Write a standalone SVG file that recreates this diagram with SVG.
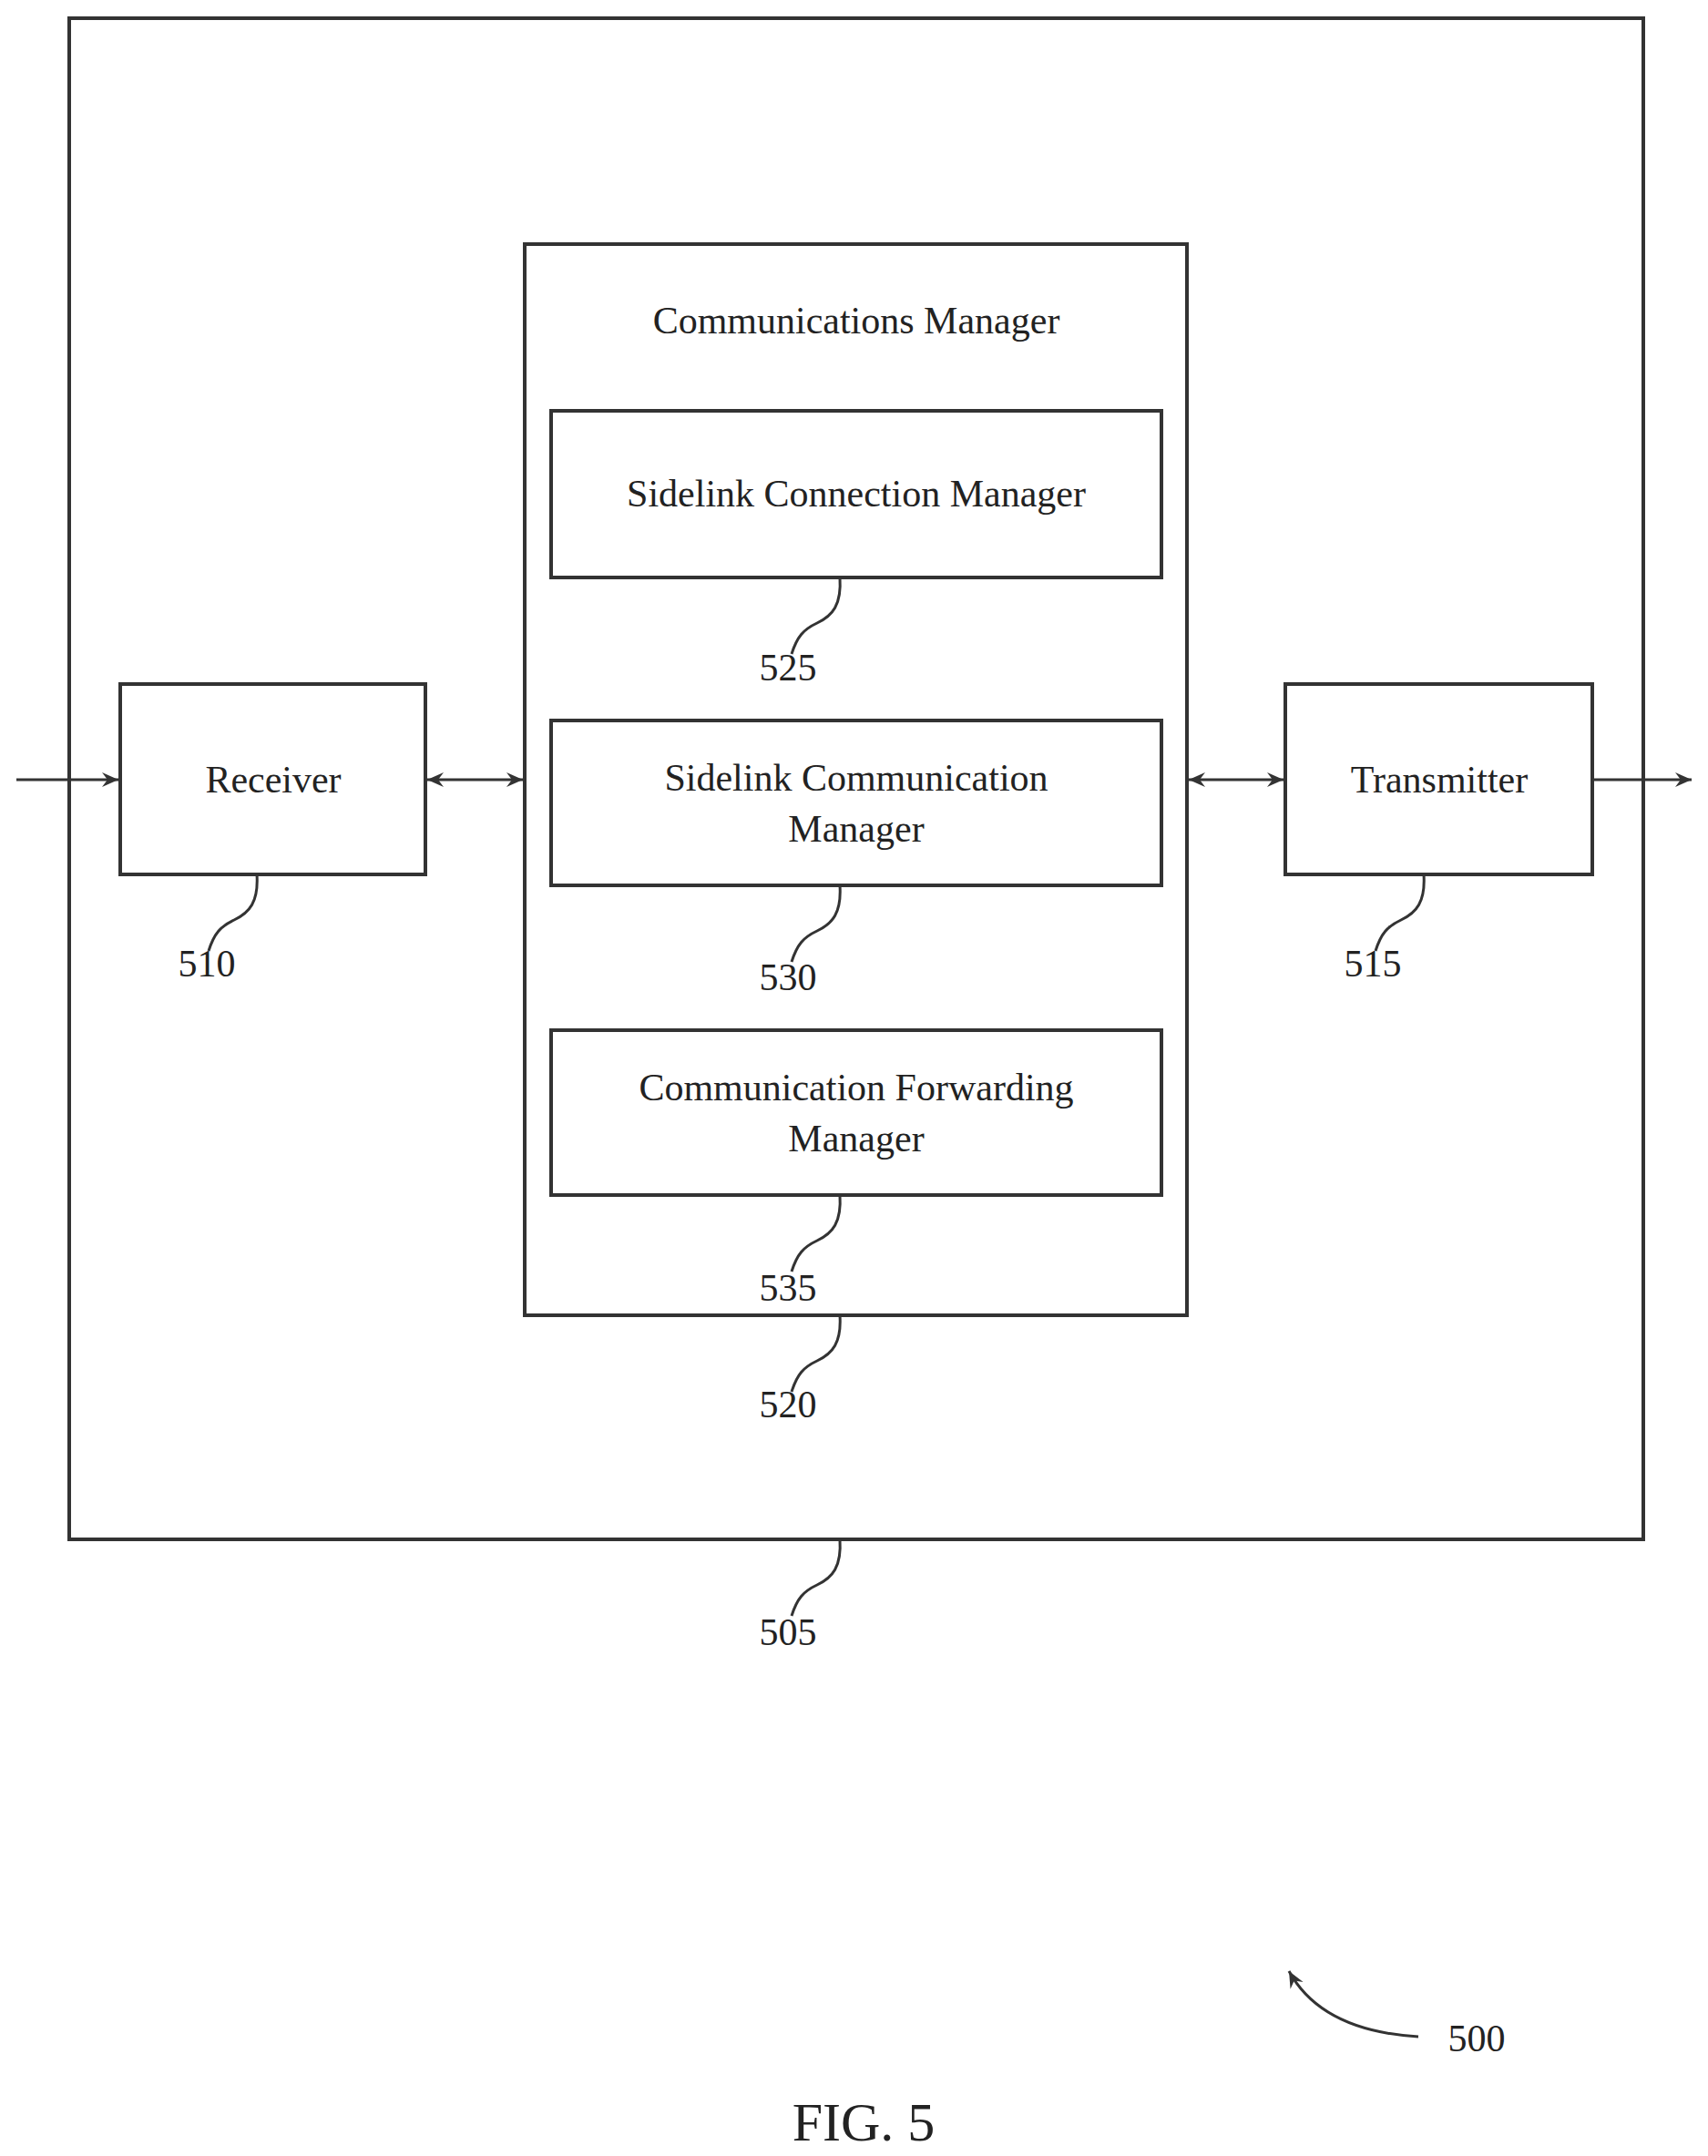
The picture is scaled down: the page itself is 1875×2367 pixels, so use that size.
<svg xmlns="http://www.w3.org/2000/svg" width="1875" height="2367" viewBox="0 0 1875 2367">
<style>
.b{fill:none;stroke:#333;stroke-width:4}
.c{fill:none;stroke:#333;stroke-width:3}
text{font-family:"Liberation Serif",serif;font-size:42px;fill:#222;text-anchor:middle}
</style>
<defs>
<marker id="a" viewBox="0 0 20 20" refX="18" refY="10" markerWidth="20" markerHeight="20" markerUnits="userSpaceOnUse" orient="auto-start-reverse">
<path d="M0,2 L18,10 L0,18 L6,10 Z" fill="#333"/>
</marker>
</defs>
<rect width="1875" height="2367" fill="#fff"/>
<g id="n505"><rect class="b" x="76" y="20" width="1728" height="1670"/><text x="865" y="1806">505</text></g>
<g id="n520"><rect class="b" x="576" y="268" width="727" height="1176"/><text x="940" y="366">Communications Manager</text><text x="865" y="1556">520</text></g>
<g id="n525"><rect class="b" x="605" y="451" width="670" height="183"/><text x="940" y="556">Sidelink Connection Manager</text><text x="865" y="747">525</text></g>
<g id="n530"><rect class="b" x="605" y="791" width="670" height="181"/><text x="940" y="868">Sidelink Communication</text><text x="940" y="924">Manager</text><text x="865" y="1087">530</text></g>
<g id="n535"><rect class="b" x="605" y="1131" width="670" height="181"/><text x="940" y="1208">Communication Forwarding</text><text x="940" y="1264">Manager</text><text x="865" y="1428">535</text></g>
<g id="n510"><rect class="b" x="132" y="751" width="335" height="209"/><text x="300" y="870">Receiver</text><text x="227" y="1072">510</text></g>
<g id="n515"><rect class="b" x="1411" y="751" width="337" height="209"/><text x="1580" y="870">Transmitter</text><text x="1507" y="1072">515</text></g>
<g id="n500"><text x="1621" y="2252">500</text></g>
<text x="948" y="2350" style="font-size:60px">FIG. 5</text>
<g id="connectors">
<line class="c" x1="18" y1="856" x2="130" y2="856" marker-end="url(#a)"/>
<line class="c" x1="469" y1="856" x2="574" y2="856" marker-start="url(#a)" marker-end="url(#a)"/>
<line class="c" x1="1305" y1="856" x2="1409" y2="856" marker-start="url(#a)" marker-end="url(#a)"/>
<line class="c" x1="1748" y1="856" x2="1857" y2="856" marker-end="url(#a)"/>
<path class="c" d="M922,634 c2,30 -8,42 -25,50 c-15,7 -22,15 -28,34"/>
<path class="c" d="M922,972 c2,30 -8,42 -25,50 c-15,7 -22,15 -28,34"/>
<path class="c" d="M922,1312 c2,30 -8,42 -25,50 c-15,7 -22,15 -28,34"/>
<path class="c" d="M922,1444 c2,30 -8,42 -25,50 c-15,7 -22,15 -28,34"/>
<path class="c" d="M922,1690 c2,30 -8,42 -25,50 c-15,7 -22,15 -28,34"/>
<path class="c" d="M282,960 c2,30 -8,42 -25,50 c-15,7 -22,15 -28,34"/>
<path class="c" d="M1563,960 c2,30 -8,42 -25,50 c-15,7 -22,15 -28,34"/>
<path class="c" d="M1557,2236 C1490,2232 1440,2210 1415,2164" marker-end="url(#a)"/>
</g>
</svg>
